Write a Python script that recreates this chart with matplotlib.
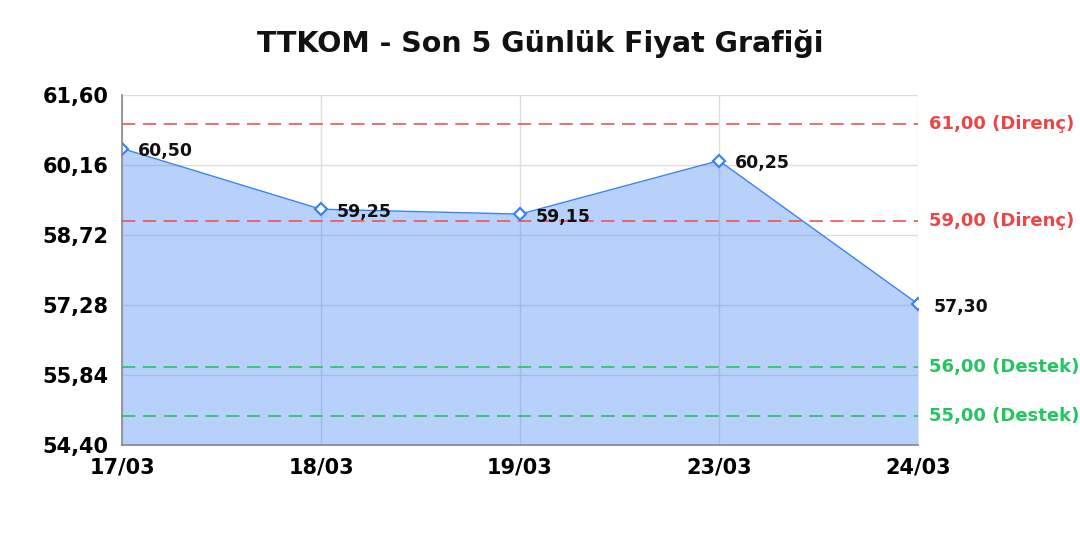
import matplotlib
matplotlib.use("Agg")
import matplotlib.pyplot as plt
from matplotlib.ticker import FixedLocator

dates = ["17/03", "18/03", "19/03", "23/03", "24/03"]
prices = [60.50, 59.25, 59.15, 60.25, 57.30]
resistance = [61.00, 59.00]
support = [56.00, 55.00]
yticks = [54.40, 55.84, 57.28, 58.72, 60.16, 61.60]
title = "TTKOM - Son 5 Günlük Fiyat Grafiği"

def fmt(v):
    return f"{v:.2f}".replace(".", ",")

plt.rcParams["font.family"] = ["DejaVu Sans"]
fig = plt.figure(figsize=(10.8, 5.4), dpi=100)
ax = fig.add_axes([0.113, 0.176, 0.737, 0.648])

x = list(range(len(dates)))
ymin, ymax = yticks[0], yticks[-1]
ax.fill_between(x, prices, ymin, color="#3b82f6", alpha=0.36, lw=0, zorder=3)
ax.plot(x, prices, color="#3b82f6", lw=1.0, zorder=4)
ax.plot(x, prices, ls="none", marker="D", ms=6, mfc="white", mec="#3b82f6", mew=1.6, zorder=6)

for xi, v in zip(x, prices):
    ax.annotate(fmt(v), (xi, v), xytext=(11.5, -2), textcoords="offset points",
                va="center", ha="left", fontsize=12.5, fontweight="bold", color="#111111", zorder=7)

dash = (0, (8, 4.5))
for r in resistance:
    ax.axhline(r, color="#ef5350", ls=dash, lw=1.2, zorder=5)
    ax.annotate(f"{fmt(r)} (Direnç)", (1, r), xycoords=("axes fraction", "data"),
                xytext=(8, 0), textcoords="offset points", va="center", ha="left",
                fontsize=13, fontweight="bold", color="#ef4444", annotation_clip=False)
for s in support:
    ax.axhline(s, color="#22c55e", ls=dash, lw=1.2, zorder=5)
    ax.annotate(f"{fmt(s)} (Destek)", (1, s), xycoords=("axes fraction", "data"),
                xytext=(8, 0), textcoords="offset points", va="center", ha="left",
                fontsize=13, fontweight="bold", color="#22c55e", annotation_clip=False)

ax.set_xlim(x[0], x[-1])
ax.set_ylim(ymin, ymax)
ax.yaxis.set_major_locator(FixedLocator(yticks))
ax.set_yticklabels([fmt(t) for t in yticks])
ax.set_xticks(x)
ax.set_xticklabels(dates)
ax.tick_params(axis="y", length=0, labelsize=15, pad=10)
ax.tick_params(axis="x", length=0, labelsize=15, pad=9)
for lab in ax.get_xticklabels() + ax.get_yticklabels():
    lab.set_fontweight("bold")
ax.grid(True, color="#dddddd", lw=1.0, zorder=0)
ax.set_axisbelow(True)
for side in ["top", "right"]:
    ax.spines[side].set_visible(False)
for side in ["left", "bottom"]:
    ax.spines[side].set_color("#888888")
    ax.spines[side].set_linewidth(1.2)
    ax.spines[side].set_zorder(8)

fig.suptitle(title, x=0.5, y=0.945, fontsize=20.5, fontweight="bold", color="#111111")
fig.savefig("out.png", dpi=100)
